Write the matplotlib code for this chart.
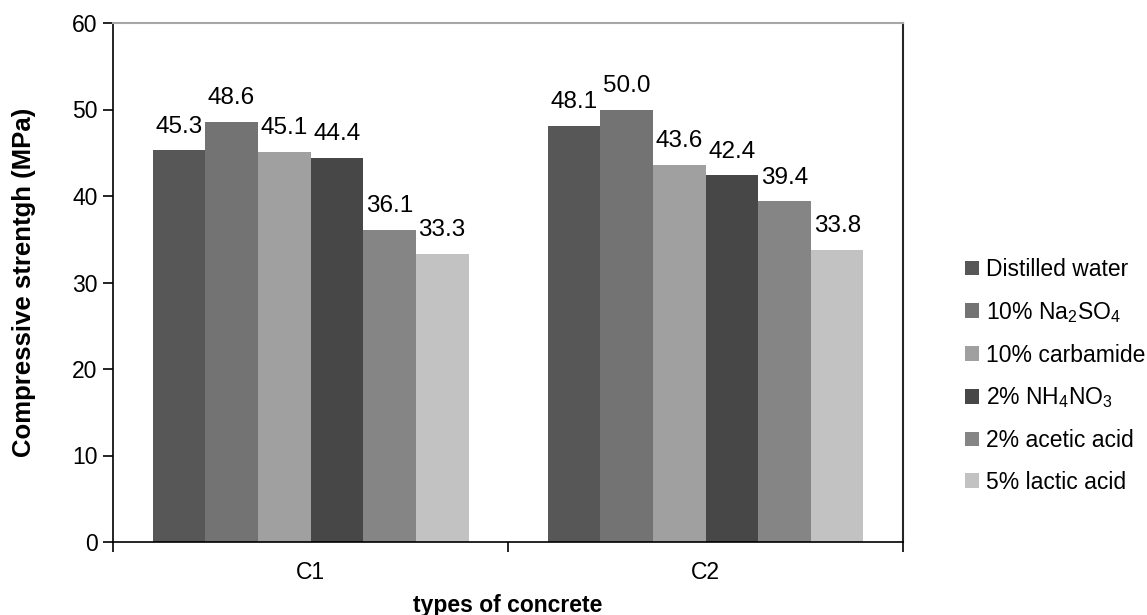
import matplotlib.pyplot as plt
import numpy as np

plt.rcParams['font.family'] = ['Liberation Sans', 'DejaVu Sans']
plt.rcParams['mathtext.default'] = 'regular'

# data
concrete = ['C1', 'C2']
series = ['Distilled water', '10% Na$_2$SO$_4$', '10% carbamide',
          '2% NH$_4$NO$_3$', '2% acetic acid', '5% lactic acid']
values = [[45.3, 48.1],
          [48.6, 50.0],
          [45.1, 43.6],
          [44.4, 42.4],
          [36.1, 39.4],
          [33.3, 33.8]]
colors = ['#575757', '#737373', '#a0a0a0', '#474747', '#858585', '#c2c2c2']

fig = plt.figure(figsize=(11.47, 6.15), dpi=100)
ax = fig.add_axes([113/1147, 1 - 542/615, 790/1147, 519/615])

x = np.arange(len(concrete))
w = 0.8 / len(series)
for i in range(len(series)):
    pos = x - 0.4 + w * (i + 0.5)
    bars = ax.bar(pos, values[i], w, color=colors[i], label=series[i])
    for b, v in zip(bars, values[i]):
        ax.annotate('%.1f' % v, (b.get_x() + b.get_width()/2, v),
                    xytext=(0, 9), textcoords='offset points',
                    ha='center', va='bottom', fontsize=17.5)

ax.set_xlim(-0.5, 1.5)
ax.set_ylim(0, 60)
ax.set_yticks(range(0, 61, 10))
ax.set_xticks(x)
ax.set_xticklabels(concrete)
ax.set_xticks([-0.5, 0.5, 1.5], minor=True)
ax.tick_params(axis='x', which='major', length=0, labelsize=16.5, pad=14)
ax.tick_params(axis='x', which='minor', length=7, width=1.2)
ax.tick_params(axis='y', length=7, width=1.2, labelsize=16.5, pad=4)

ax.spines['left'].set_linewidth(1.2)
ax.spines['bottom'].set_linewidth(1.2)
ax.spines['top'].set_color('#a6a6a6')
ax.spines['top'].set_linewidth(1.5)
ax.spines['right'].set_color('#262626')
ax.spines['right'].set_linewidth(1.5)

ax.set_ylabel('Compressive strentgh (MPa)', fontsize=18.5, fontweight='bold', labelpad=26)
ax.set_xlabel('types of concrete', fontsize=16.5, fontweight='bold', labelpad=7)

ax.legend(loc='center left', bbox_to_anchor=(1.053, 0.32), frameon=False,
          fontsize=16.5, handlelength=0.6, handleheight=0.6, handletextpad=0.3,
          labelspacing=0.82)

fig.savefig('out.png', dpi=100)
